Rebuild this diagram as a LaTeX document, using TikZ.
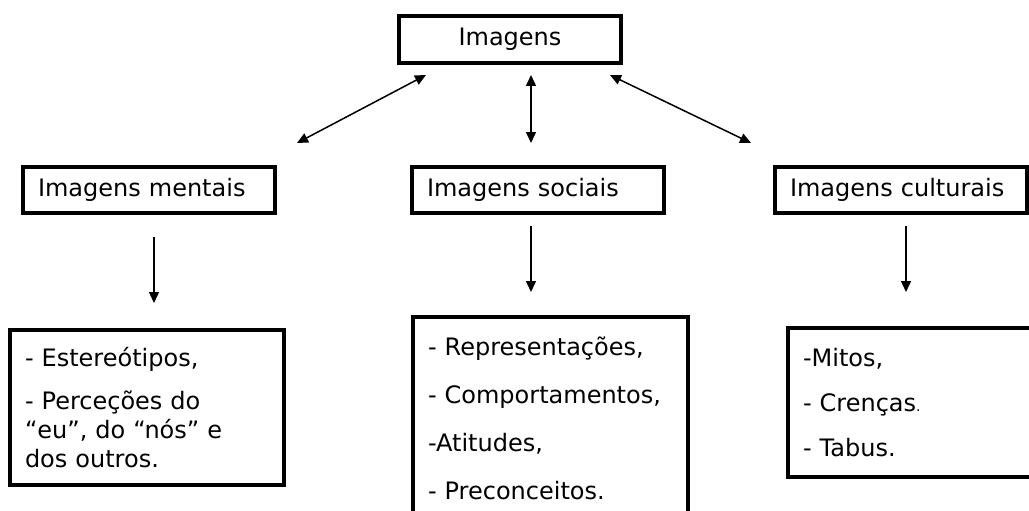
\documentclass[tikz,border=0pt]{standalone}
\usepackage{fontspec}
\setmainfont{DejaVu Sans}
\usetikzlibrary{arrows.meta,positioning}

\begin{document}
\begin{tikzpicture}[x=1pt,y=-1pt,
        every node/.style={font=\fontsize{24}{29}\selectfont,outer sep=0pt},
        topbox/.style={draw,line width=3.5pt,minimum width=222pt,minimum height=47pt},
        midbox/.style={draw,line width=3.5pt,anchor=north west,inner xsep=15pt,
            text width=222pt,align=left,minimum height=46pt},
        listbox/.style={draw,line width=3.5pt,anchor=north west,inner xsep=15pt,align=left},
        arr/.style={line width=1.5pt,-{Triangle[length=11pt,width=10pt]}},
        darr/.style={line width=1.5pt,{Triangle[length=11pt,width=10pt]}-{Triangle[length=11pt,width=10pt]}}
        ]
        \useasboundingbox (0,0) rectangle (1029,511);
        \clip (0,0) rectangle (1029,511);

        % the top node
        \node[topbox] (img) at (510,39.5) {Imagens};

        % the three kinds of images
        \node[midbox] (mentais) at (23,167) {Imagens mentais};
        \node[midbox] (sociais) at (412,167) {Imagens sociais};
        \node[midbox] (culturais) at (775,167) {Imagens culturais};

        % the lists
        \node[listbox,text width=244pt,minimum height=155pt] (lmentais) at (10,330)
            {- Estereótipos,\\[14pt] - Perceções do\\ “eu”, do “nós” e\\ dos outros.};
        \node[listbox,text width=245pt,minimum height=203pt] (lsociais) at (413,317)
            {- Representações,\\[19pt] - Comportamentos,\\[19pt] -Atitudes,\\[19pt] - Preconceitos.};
        \node[listbox,text width=222pt,minimum height=149pt] (lculturais) at (788,328)
            {-Mitos,\\[16pt] - Crenças{\fontsize{14}{14}\selectfont .}\\[16pt] - Tabus.};

        % the double arrows
        \draw[darr] ([xshift=22pt,yshift=24pt]mentais.north east) -- ([xshift=27pt,yshift=-12pt]img.south west);
        \draw[darr] ([xshift=21pt,yshift=-12pt]img.south) -- ([xshift=-7pt,yshift=24pt]sociais.north);
        \draw[darr] ([xshift=-11pt,yshift=-12pt]img.south east) -- ([xshift=-24pt,yshift=24pt]culturais.north west);

        % the arrows down
        \draw[arr] ([xshift=5pt,yshift=-24pt]mentais.south) -- ([xshift=7pt,yshift=27pt]lmentais.north);
        \draw[arr] ([xshift=-7pt,yshift=-13pt]sociais.south) -- ([xshift=-19.5pt,yshift=25pt]lsociais.north);
        \draw[arr] ([xshift=5pt,yshift=-13pt]culturais.south) -- ([xshift=-8pt,yshift=36pt]lculturais.north);
\end{tikzpicture}
\end{document}
